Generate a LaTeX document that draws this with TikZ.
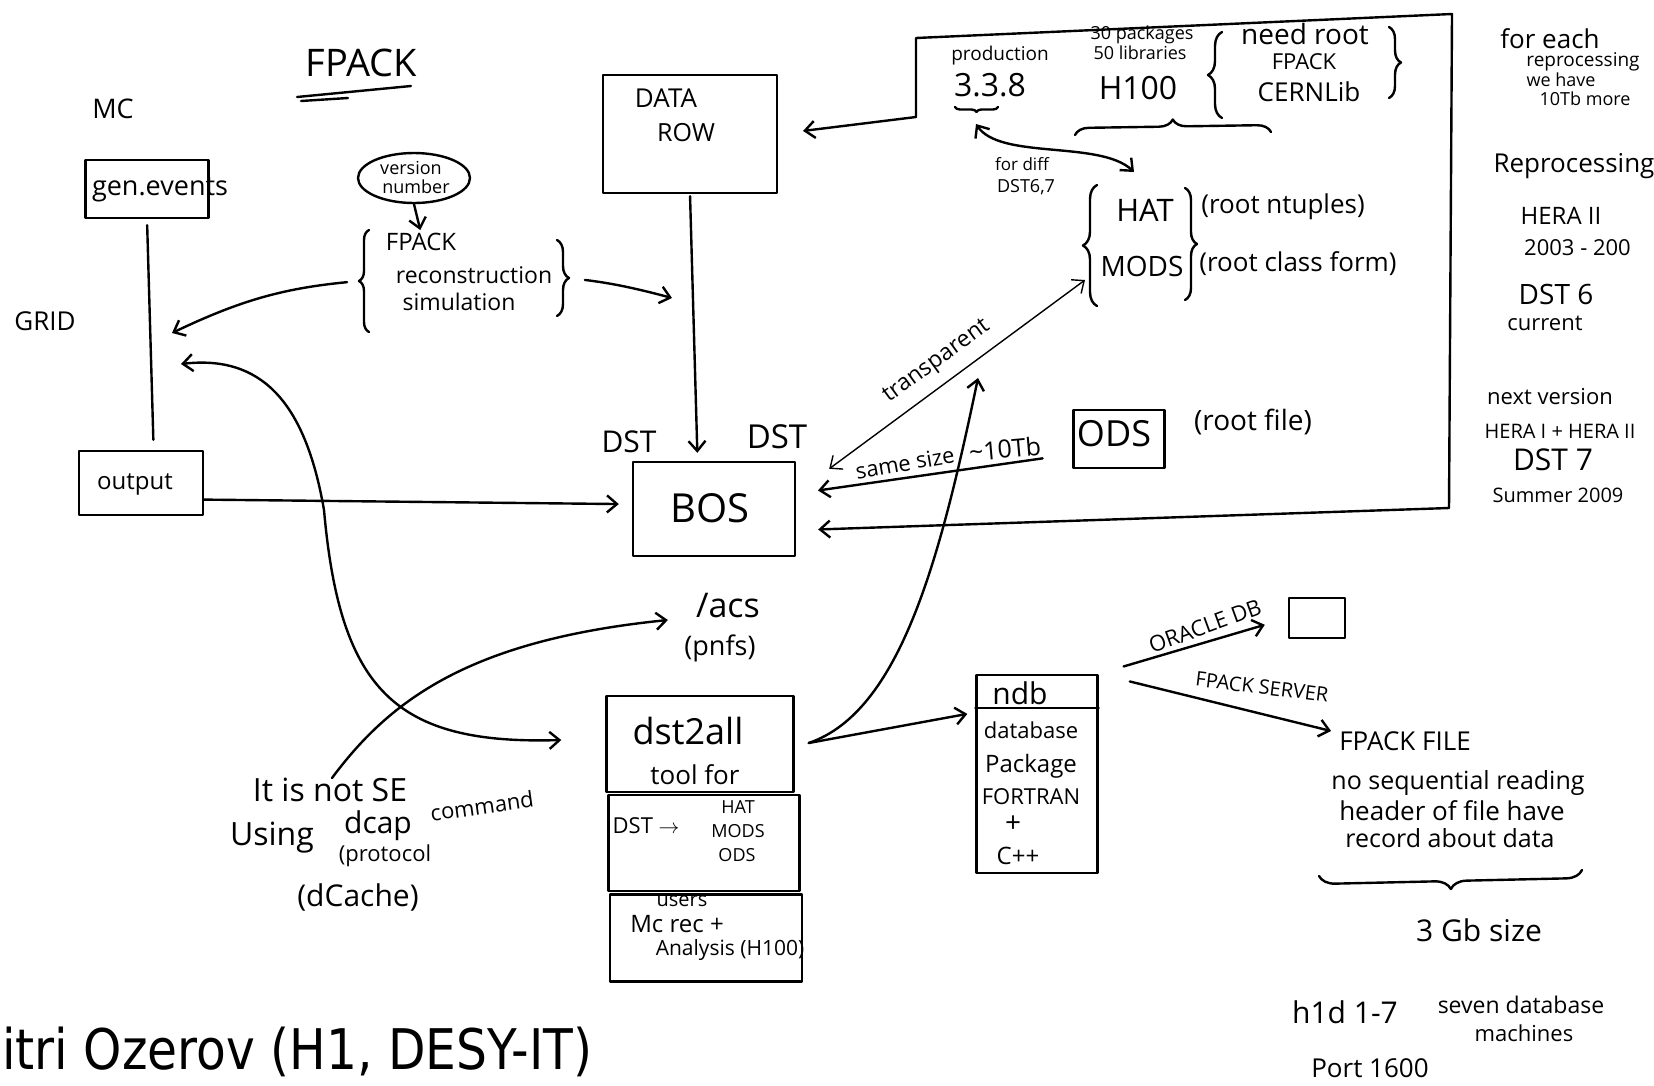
\documentclass[tikz,border=0pt]{standalone}
\usepackage{fontspec}
\usepackage{graphicx}
\setmainfont{Open Sans}
\newfontfamily\capfont{DejaVu Sans}
\usetikzlibrary{arrows.meta,calc,shapes.geometric,decorations.pathreplacing}
\tikzset{
  ink/.style={line width=2.4pt, line cap=round, line join=round},
  oneway/.style={ink, -{Straight Barb[length=10pt,width=17pt]}},
  twoway/.style={ink, {Straight Barb[length=10pt,width=17pt]}-{Straight Barb[length=10pt,width=17pt]}},
  box/.style={draw, ink, inner sep=0pt},
  hw/.style={font=\fontsize{#1}{#1}\selectfont, inner sep=0pt},
  hw/.default=24,
  brc/.style={ink, decorate, decoration={brace, amplitude=#1}},
  brc/.default=10,
}
\begin{document}
\begin{tikzpicture}[x=1pt,y=-1pt]
\useasboundingbox (0,0) rectangle (1654,1085);
\fill[white] (0,0) rectangle (1654,1085);

% ---- title
\node[hw=38] (title) at (361,63) {FPACK};
\draw[ink] (297,97) -- (411,86);
\draw[ink] (301,101) -- (348,98);

% ---- MC / GRID column
\node[hw=27] (mc) at (113,109) {MC};
\node[box, minimum width=123, minimum height=58] (gen) at (147,189) {};
\node[hw=27] (gentext) at (160,190) {gen.events};
\node[hw=26] (grid) at (45,321) {GRID};
\node[box, minimum width=124, minimum height=64] (out) at (141,483) {};
\node[hw=24] (outtext) at (135,484) {output};
\draw[ink, shorten <=6, shorten >=10] (gen.south) -- ($(out.north west)!0.6!(out.north east)$);

% ---- version number and FPACK programs
\node[draw, ellipse, ink, minimum width=112, minimum height=50, inner sep=0pt] (ver) at (414,178) {};
\node[hw=18] (vertext1) at (411,168) {version};
\node[hw=18] (vertext2) at (416,187) {number};
\node[hw=24] (fpk) at (421,242) {FPACK};
\node[hw=23] (reco) at (474,275) {reconstruction};
\node[hw=23] (simu) at (459,302) {simulation};
\draw[oneway, shorten >=3] (ver.south) -- (fpk.north);
\draw[brc=10] (369,332) -- (369,230);
\draw[brc=12] (557,240) -- (557,316);
\coordinate (bL) at (359,281);
\coordinate (bR) at (569,278);
\coordinate (gridTip) at (172,333);
\coordinate (recoTip) at (672,298);
\draw[oneway, shorten <=12] (bL) to[bend right=10] (gridTip);
\draw[oneway, shorten <=16] (bR) to[bend left=4] (recoTip);

% ---- DATA ROW and BOS
\node[box, minimum width=174, minimum height=118] (data) at (690,134) {};
\node[hw=26] (datatext) at (666,98) {DATA};
\node[hw=25] (rowtext) at (686,133) {ROW};
\node[box, minimum width=162, minimum height=94] (bos) at (714,509) {};
\node[hw=40] (bostext) at (710,508) {BOS};
\node[hw=30] (dstl) at (629,442) {DST};
\node[hw=33] (dstr) at (777,437) {DST};
\draw[oneway, shorten <=2, shorten >=8] (data.south) -- ($(bos.north west)!0.4!(bos.north east)$);
\draw[oneway, shorten >=13] ($(out.north east)!0.75!(out.south east)$) -- ($(bos.north west)!0.45!(bos.south west)$);

% ---- software frame
\coordinate (fL) at (916,117);
\coordinate (fTL) at (916,38);
\coordinate (fTR) at (1452,14);
\coordinate (fBR) at (1449,508);
\draw[twoway, shorten <=25, shorten >=22] (data.east) -- (fL) -- (fTL) -- (fTR) -- (fBR) -- ($(bos.north east)!0.72!(bos.south east)$);

\node[hw=19] (prod) at (1000,56) {production};
\node[hw=32] (rel) at (990,85) {3.3.8};
\draw[brc=5] (998,107) -- (955,107);
\node[hw=18] (pk) at (1142,35) {30 packages};
\node[hw=18] (lib) at (1140,53) {50 libraries};
\node[hw=32] (h100) at (1138,88) {H100};
\draw[brc=14] (1222,118) -- (1222,32);
\node[hw=28] (needroot) at (1305,34) {need root};
\node[hw=22] (needfpack) at (1304,62) {FPACK};
\node[hw=26] (cernlib) at (1309,92) {CERNLib};
\draw[brc=12] (1389,27) -- (1389,98);
\draw[brc=14] (1075,135) -- (1271,132);

\coordinate (t338) at (976,124);
\coordinate (hatTip) at (1134,172);
\draw[twoway] (t338) .. controls (1000,160) and (1100,140) .. (hatTip);
\node[hw=17] (fordiff) at (1022,164) {for diff};
\node[hw=18] (dst67) at (1026,187) {DST6,7};

\draw[brc=14] (1097,306) -- (1097,185);
\draw[brc=12] (1185,188) -- (1185,300);
\node[hw=31] (hat) at (1145,210) {HAT};
\node[hw=28] (mods) at (1142,266) {MODS};
\node[hw=26] (ntup) at (1283,207) {(root ntuples)};
\node[hw=26] (cform) at (1298,264) {(root class form)};

\coordinate (modsTip) at (1085,280);
\draw[twoway, line width=1.4pt] (modsTip) -- ($(bos.north east)+(33,8)$);
\node[hw=23, rotate=36] (transp) at (937,362) {transparent};

\node[box, minimum width=91, minimum height=58] (ods) at (1119,439) {};
\node[hw=36] (odstext) at (1114,434) {ODS};
\node[hw=28] (rootfile) at (1253,422) {(root file)};
\draw[oneway, shorten <=30, shorten >=22] ($(ods.south west)!0.25!(ods.north west)$) -- ($(bos.north east)!0.34!(bos.south east)$);
\node[hw=22, rotate=10] (samesize) at (905,463) {same size};
\node[hw=25, rotate=5] (tenTb) at (1005,449) {\textasciitilde10Tb};

% ---- right column notes
\node[hw=26] (n1) at (1550,39) {for each};
\node[hw=19] (n2) at (1583,62) {reprocessing};
\node[hw=18] (n3) at (1561,80) {we have};
\node[hw=18] (n4) at (1585,99) {10Tb more};
\node[hw=26] (n5) at (1574,166) {Reprocessing};
\node[hw=24] (n6) at (1561,216) {HERA II};
\node[hw=22, anchor=west] (n7) at (1524,248) {2003 - 200};
\node[hw=28] (n8) at (1556,294) {DST 6};
\node[hw=22] (n9) at (1545,323) {current};
\node[hw=22] (n10) at (1550,397) {next version};
\node[hw=20] (n11) at (1560,431) {HERA I + HERA II};
\node[hw=30] (n12) at (1553,460) {DST 7};
\node[hw=20] (n13) at (1558,495) {Summer 2009};

% ---- /acs and dst2all
\node[hw=34] (acs) at (728,606) {/acs};
\node[hw=27] (pnfs) at (720,648) {(pnfs)};
\node[box, minimum width=187, minimum height=96] (d2a) at (700,744) {};
\node[box, minimum width=191, minimum height=96] (d2b) at (704,843) {};
\node[box, minimum width=192, minimum height=87] (d2c) at (706,938) {};
\node[hw=36] (d2atext) at (688,731) {dst2all};
\node[hw=26] (toolfor) at (695,775) {tool for};
\node[hw=22] (dstto) at (646,826) {DST $\rightarrow$};
\node[hw=18] (hat2) at (738,807) {HAT};
\node[hw=18] (mods2) at (738,831) {MODS};
\node[hw=18] (ods2) at (737,855) {ODS};
\node[hw=20] (users) at (682,901) {users};
\node[hw=24] (mcrec) at (677,924) {Mc rec +};
\node[hw=21] (anal) at (730,950) {Analysis (H100)};

\coordinate (gridTip2) at (181,364);
\draw[twoway] (gridTip2) .. controls (260,355) and (305,400) .. (324,510)
  .. controls (340,690) and (395,745) .. ($(d2a.west)+(-44,-4)$);
\coordinate (seStart) at (332,778);
\draw[oneway] (seStart) .. controls (390,700) and (470,640) .. ($(acs.west)+(-28,14)$);
\coordinate (upTip) at (978,378);
\draw[oneway] ($(d2a.east)+(14,-1)$) .. controls (900,712) and (940,560) .. (upTip);

% ---- ndb
\node[box, minimum width=121, minimum height=198] (ndb) at (1037,774) {};
\draw[ink] ($(ndb.north west)+(0,34)$) -- ($(ndb.north east)+(0,34)$);
\node[hw=30] (ndbtext) at (1020,693) {ndb};
\node[hw=22] (dbase) at (1031,730) {database};
\node[hw=24] (pkg) at (1031,766) {Package};
\node[hw=22] (fortran) at (1031,797) {FORTRAN};
\node[hw=28] (plus) at (1013,824) {+};
\node[hw=24] (cpp) at (1018,856) {C++};
\draw[oneway] ($(d2a.east)+(14,-1)$) -- ($(ndb.north west)!0.2!(ndb.south west)+(-8,0)$);

\node[box, minimum width=56, minimum height=40] (ora) at (1317,618) {};
\draw[oneway, shorten <=26, shorten >=24] (ndb.north east) -- (ora.west);
\node[hw=22, rotate=20] (oratext) at (1205,626) {ORACLE DB};

\node[hw=26] (ffile) at (1405,741) {FPACK FILE};
\draw[oneway, shorten <=32] (ndb.north east) -- ($(ffile.west)+(-8,-10)$);
\node[hw=20, rotate=-7] (fserver) at (1262,687) {FPACK SERVER};
\node[hw=25] (f1) at (1458,783) {no sequential reading};
\node[hw=26] (f2) at (1452,811) {header of file have};
\node[hw=25] (f3) at (1450,838) {record about data};
\draw[brc=16] (1582,870) -- (1319,876);
\node[hw=30] (gsize) at (1479,930) {3 Gb size};
\node[hw=30] (h1d) at (1345,1012) {h1d 1-7};
\node[hw=23] (seven) at (1521,1005) {seven database};
\node[hw=22] (mach) at (1524,1033) {machines};
\node[hw=26] (port) at (1370,1068) {Port 1600};

% ---- dcap notes
\node[hw=32] (se1) at (330,790) {It is not SE};
\node[hw=32] (se2) at (272,838) {Using};
\node[hw=30] (se3) at (378,826) {dcap};
\node[hw=22, rotate=8] (se4) at (482,806) {command};
\node[hw=22] (se5) at (385,856) {(protocol};
\node[hw=30] (se6) at (358,897) {(dCache)};

% ---- speaker line
\node[anchor=base west, inner sep=0pt, font=\capfont\fontsize{56}{56}\selectfont] (speaker) at (2,1069) {\scalebox{0.87}[1]{itri Ozerov (H1, DESY-IT)}};
\end{tikzpicture}
\end{document}
